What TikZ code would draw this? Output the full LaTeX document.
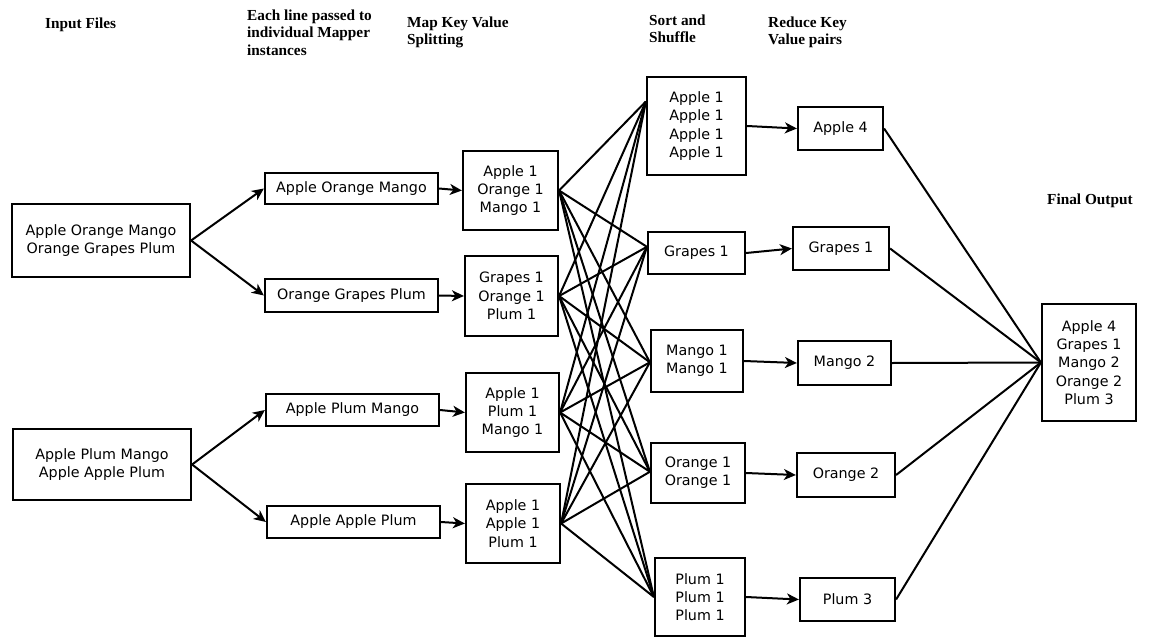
\documentclass[tikz,border=0pt]{standalone}
\usepackage{fontspec}
\newfontfamily\dv{DejaVu Sans}
\newfontfamily\hdfont{Liberation Serif}
\usetikzlibrary{arrows.meta,calc}
\begin{document}
\begin{tikzpicture}[x=1pt,y=-1pt,
  box/.style={draw,line width=2.2pt,inner sep=0pt,align=center,
    font=\dv\fontsize{14.3}{18.3}\selectfont},
  head/.style={anchor=north west,inner sep=0pt,align=left,
    font=\hdfont\bfseries\fontsize{15.3}{17.5}\selectfont},
  conn/.style={line width=2pt},
  arr/.style={line width=2pt,-{Stealth[length=12pt,width=11pt,inset=3.5pt]}}]
\useasboundingbox (0,0) rectangle (1151,637);
% headers
\node[head] (h1) at (45,17.5) {Input Files};
\node[head] (h2) at (247,9.5) {Each line passed to\\individual Mapper\\instances};
\node[head] (h3) at (407,16.5) {Map Key Value\\Splitting};
\node[head] (h4) at (649,14.5) {Sort and\\Shuffle};
\node[head] (h5) at (768,16.5) {Reduce Key\\Value pairs};
\node[head] (h6) at (1047,194) {Final Output};
% input files
\node[box,minimum width=178pt,minimum height=73pt] (in1) at (101,240.5) {Apple Orange Mango\\Orange Grapes Plum};
\node[box,minimum width=178pt,minimum height=71pt] (in2) at (102,464.5) {Apple Plum Mango\\Apple Apple Plum};
% lines
\node[box,minimum width=173pt,minimum height=31pt] (l1) at (351.5,188.5) {Apple Orange Mango};
\node[box,minimum width=173pt,minimum height=33pt] (l2) at (351.5,295.5) {Orange Grapes Plum};
\node[box,minimum width=173pt,minimum height=32pt] (l3) at (352.5,410) {Apple Plum Mango};
\node[box,minimum width=173pt,minimum height=32pt] (l4) at (353.5,522) {Apple Apple Plum};
% map
\node[box,minimum width=95pt,minimum height=79pt] (m1) at (510.5,190.5) {Apple 1\\Orange 1\\Mango 1};
\node[box,minimum width=93pt,minimum height=80pt] (m2) at (511.5,296) {Grapes 1\\Orange 1\\Plum 1};
\node[box,minimum width=93pt,minimum height=79pt] (m3) at (512.5,412.5) {Apple 1\\Plum 1\\Mango 1};
\node[box,minimum width=94pt,minimum height=79pt] (m4) at (513,523.5) {Apple 1\\Apple 1\\Plum 1};
% shuffle
\node[box,minimum width=99pt,minimum height=98pt] (s1) at (696.5,126) {Apple 1\\Apple 1\\Apple 1\\Apple 1};
\node[box,minimum width=97pt,minimum height=42pt] (s2) at (696.5,253) {Grapes 1};
\node[box,minimum width=92pt,minimum height=62pt] (s3) at (697,361) {Mango 1\\Mango 1};
\node[box,minimum width=94pt,minimum height=60pt] (s4) at (698,473) {Orange 1\\Orange 1};
\node[box,minimum width=90pt,minimum height=78pt] (s5) at (700,597) {Plum 1\\Plum 1\\Plum 1};
% reduce
\node[box,minimum width=85pt,minimum height=43pt] (r1) at (840.5,128.5) {Apple 4};
\node[box,minimum width=96pt,minimum height=43pt] (r2) at (841,248.5) {Grapes 1};
\node[box,minimum width=93pt,minimum height=44pt] (r3) at (844.5,363) {Mango 2};
\node[box,minimum width=98pt,minimum height=44pt] (r4) at (846,475) {Orange 2};
\node[box,minimum width=95pt,minimum height=43pt] (r5) at (847.5,599.5) {Plum 3};
% final
\node[box,minimum width=94pt,minimum height=117pt] (fo) at (1089,362.5) {Apple 4\\Grapes 1\\Mango 2\\Orange 2\\Plum 3};
% convergence points on shuffle boxes
\coordinate (c1) at ($(s1.north west)!0.255!(s1.south west)$);
\coordinate (c2) at ($(s2.north west)!0.36!(s2.south west)$);
\coordinate (c3) at ($(s3.north west)!0.52!(s3.south west)$);
\coordinate (c4) at ($(s4.north west)!0.48!(s4.south west)$);
\coordinate (c5) at ($(s5.north west)!0.5!(s5.south west)$);
% arrows
\draw[arr] (in1.east) -- (l1.west);
\draw[arr] (in1.east) -- (l2.west);
\draw[arr] (in2.east) -- (l3.west);
\draw[arr] (in2.east) -- (l4.west);
\draw[arr] (l1.east) -- (m1.west);
\draw[arr] (l2.east) -- (m2.west);
\draw[arr] (l3.east) -- (m3.west);
\draw[arr] (l4.east) -- (m4.west);
\foreach \m in {m1,m2,m3,m4}{
  \foreach \c in {c1,c2,c3,c4,c5}{
    \draw[conn] (\m.east) -- (\c);
  }
}
\draw[arr] (s1.east) -- (r1.west);
\draw[arr] (s2.east) -- (r2.west);
\draw[arr] (s3.east) -- (r3.west);
\draw[arr] (s4.east) -- (r4.west);
\draw[arr] (s5.east) -- (r5.west);
\foreach \r in {r1,r2,r3,r4,r5}{
  \draw[conn] (\r.east) -- (fo.west);
}
\end{tikzpicture}
\end{document}
